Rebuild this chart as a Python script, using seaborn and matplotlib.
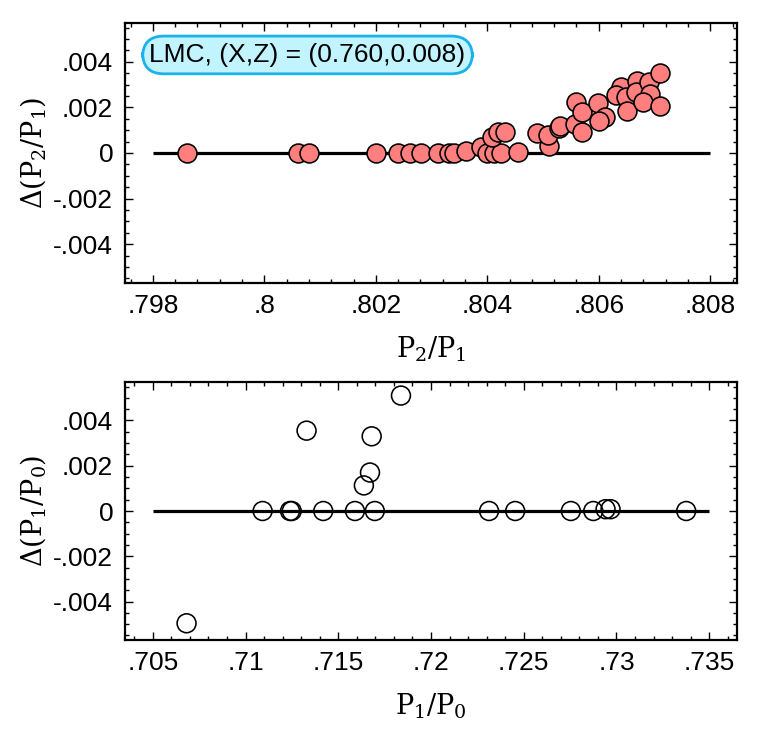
import matplotlib
matplotlib.use("Agg")
import matplotlib.pyplot as plt
import numpy as np
import pandas as pd
import seaborn as sns
from matplotlib.ticker import FixedLocator, MultipleLocator

# ---------------- data ----------------
p21 = [0.79862, 0.80060, 0.80081, 0.80200, 0.80240, 0.80262, 0.80281, 0.80311,
       0.80331, 0.80340, 0.80361, 0.80388, 0.80400, 0.80412, 0.80424, 0.80409,
       0.80419, 0.80431, 0.80455, 0.80490, 0.80510, 0.80508, 0.80528, 0.80531,
       0.80560, 0.80558, 0.80570, 0.80570, 0.80598, 0.80612, 0.80600, 0.80639,
       0.80630, 0.80648, 0.80650, 0.80669, 0.80667, 0.80690, 0.80691, 0.80679,
       0.80709, 0.80709]
d_p21 = [0.0, 0.0, 0.0, 0.0, 0.0, 0.0, 0.0, 0.0,
         0.0, 0.0, 0.0001, 0.00026, 0.0, 0.0, 0.0, 0.0007,
         0.00092, 0.0009, 0.00005, 0.00088, 0.0003, 0.0008, 0.00109, 0.00118,
         0.00223, 0.00125, 0.00179, 0.00092, 0.00218, 0.00157, 0.0014, 0.00288,
         0.00255, 0.00247, 0.00183, 0.00314, 0.00269, 0.0031, 0.00259, 0.00223,
         0.00349, 0.00204]

p10 = [0.70682, 0.71092, 0.71240, 0.71249, 0.71419, 0.71590, 0.71697, 0.71329,
       0.71680, 0.71671, 0.71638, 0.71838, 0.72313, 0.72454, 0.72754, 0.72875,
       0.72941, 0.72968, 0.73376]
d_p10 = [-0.00496, 0.0, 0.0, 0.0, 0.0, 0.0, 0.0, 0.00355,
         0.0033, 0.0017, 0.00113, 0.0051, 0.0, 0.0, 0.0, 0.0,
         0.00008, 0.00008, 0.0]

p21_ticks = [0.798, 0.800, 0.802, 0.804, 0.806, 0.808]
p21_ticklabels = [".798", ".8", ".802", ".804", ".806", ".808"]
p10_ticks = [0.705, 0.710, 0.715, 0.720, 0.725, 0.730, 0.735]
p10_ticklabels = [".705", ".71", ".715", ".72", ".725", ".73", ".735"]
dy_ticks = [-0.004, -0.002, 0.0, 0.002, 0.004]
dy_ticklabels = ["-.004", "-.002", "0", ".002", ".004"]
panel_label = "LMC, (X,Z) = (0.760,0.008)"

# ---------------- style ----------------
sns.set_style("ticks")
plt.rcParams["font.family"] = ["Liberation Sans", "DejaVu Sans"]
plt.rcParams["mathtext.fontset"] = "dejavuserif"
for k in ["text.color", "axes.labelcolor", "xtick.color", "ytick.color",
          "xtick.labelcolor", "ytick.labelcolor"]:
    plt.rcParams[k] = "black"

fig = plt.figure(figsize=(7.64, 7.36), dpi=100)
ax1 = fig.add_axes([0.1636, 0.6155, 0.8011, 0.3533])
ax2 = fig.add_axes([0.1636, 0.1304, 0.8011, 0.3506])

df1 = pd.DataFrame({"x": p21, "y": d_p21})
df2 = pd.DataFrame({"x": p10, "y": d_p10})

# zero reference lines
ax1.hlines(0, p21_ticks[0], p21_ticks[-1], color="black", lw=2.3, zorder=1)
ax2.hlines(0, p10_ticks[0], p10_ticks[-1], color="black", lw=2.3, zorder=1)

sns.scatterplot(data=df1, x="x", y="y", ax=ax1, s=185, color="#FF7F7F",
                edgecolor="black", linewidth=1.15, zorder=3, legend=False)
sns.scatterplot(data=df2, x="x", y="y", ax=ax2, s=185, facecolor="none",
                edgecolor="black", linewidth=1.15, zorder=3, legend=False)

def style(ax, xt, xtl, xminor, xlim, xlabel, ylabel):
    ax.set_xlim(*xlim)
    ax.set_ylim(-0.0057, 0.0057)
    ax.xaxis.set_major_locator(FixedLocator(xt))
    ax.set_xticklabels(xtl)
    ax.xaxis.set_minor_locator(MultipleLocator(xminor))
    ax.yaxis.set_major_locator(FixedLocator(dy_ticks))
    ax.set_yticklabels(dy_ticklabels)
    ax.yaxis.set_minor_locator(MultipleLocator(0.0005))
    ax.tick_params(which="both", direction="in", top=True, right=True,
                   labelsize=19, width=1.0, color="black", labelcolor="black")
    ax.tick_params(which="major", length=6)
    ax.tick_params(which="minor", length=3)
    ax.tick_params(axis="x", which="major", pad=8)
    ax.tick_params(axis="y", which="major", pad=8.5)
    for sp in ax.spines.values():
        sp.set_linewidth(1.6)
        sp.set_color("black")
    ax.set_xlabel(xlabel, fontsize=19.5, color="black")
    ax.set_ylabel(ylabel, fontsize=19.5, color="black")
    ax.xaxis.set_label_coords(0.5, -0.2)
    ax.yaxis.set_label_coords(-0.125, 0.5)

style(ax1, p21_ticks, p21_ticklabels, 0.0004, (0.7975, 0.80848),
      r"$\mathrm{P}_2/\mathrm{P}_1$", r"$\Delta(\mathrm{P}_2/\mathrm{P}_1)$")
style(ax2, p10_ticks, p10_ticklabels, 0.001, (0.7035, 0.7365),
      r"$\mathrm{P}_1/\mathrm{P}_0$", r"$\Delta(\mathrm{P}_1/\mathrm{P}_0)$")

ax1.text(0.040, 0.877, panel_label, transform=ax1.transAxes, fontsize=19,
         ha="left", va="center", zorder=5, color="black",
         bbox=dict(boxstyle="round,pad=0.26,rounding_size=0.8",
                   fc="#C2F4FF", ec="#1AB2EA", lw=2.0))

fig.savefig("out.png", dpi=100)
